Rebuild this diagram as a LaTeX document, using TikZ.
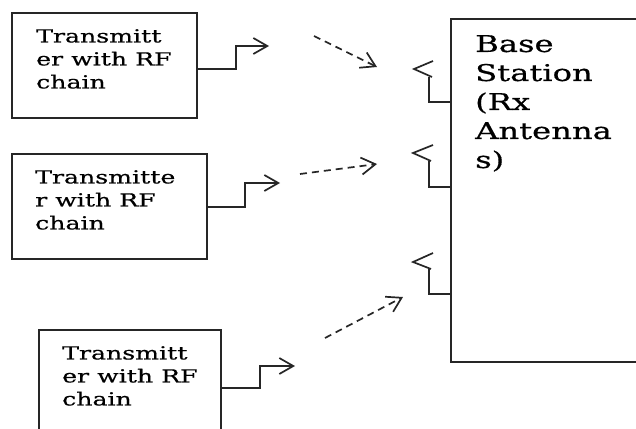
\documentclass[tikz,border=0pt]{standalone}
\usepackage{fontspec}
\newfontfamily\diagfont[FakeStretch=1.4, FakeBold=0.6]{DejaVu Serif}
\usetikzlibrary{arrows.meta, positioning, calc}
\tikzset{
  txbox/.style={rectangle, draw=black!85, line width=1.8pt, anchor=north west, inner sep=0pt},
  txlbl/.style={anchor=north west, inner sep=0pt, align=left, font=\diagfont\fontsize{18}{23}\selectfont},
  bslbl/.style={anchor=north west, inner sep=0pt, align=left, font=\diagfont\fontsize{23}{29}\selectfont},
  ant/.style={draw=black!85, line width=1.7pt, -{Straight Barb[length=14pt, width=16pt, line width=1.7pt]}},
  rxant/.style={draw=black!85, line width=1.7pt},
  wave/.style={draw=black!85, line width=1.7pt, dash pattern=on 7pt off 5pt,
               -{Straight Barb[length=14pt, width=17pt, line width=1.7pt]}}
}
\begin{document}
\begin{tikzpicture}[x=1pt, y=-1pt]
\useasboundingbox (0,0) rectangle (636,428);
\clip (0,0) rectangle (636,428);

% transmitters
\node[txbox, minimum width=185pt, minimum height=105pt] (tx1) at (11,12) {};
\node[txlbl] (tx1l) at (36,29) {Transmitt\\er with RF\\chain};
\node[txbox, minimum width=195pt, minimum height=105pt] (tx2) at (11,153) {};
\node[txlbl] (tx2l) at (35,170) {Transmitte\\r with RF\\chain};
\node[txbox, minimum width=182pt, minimum height=130pt] (tx3) at (38,329) {};
\node[txlbl] (tx3l) at (62,346) {Transmitt\\er with RF\\chain};

% base station
\node[txbox, minimum width=220pt, minimum height=343pt] (bs) at (450,18) {};
\node[bslbl] (bsl) at (475,35) {Base\\Station\\(Rx\\Antenna\\s)};

% tx antennas
\coordinate (a1) at (269,46);
\coordinate (a2) at (280,183);
\coordinate (a3) at (295,366);
\draw[ant] (tx1.east |- 0,69) -| ($(a1)+(-33,0)$) -- (a1);
\draw[ant] (tx2.east |- 0,207) -| ($(a2)+(-35,0)$) -- (a2);
\draw[ant] (tx3.east |- 0,388) -| ($(a3)+(-35,0)$) -- (a3);

% rx antennas
\coordinate (r1) at (414,69);
\coordinate (r2) at (413,153);
\coordinate (r3) at (413,262);
\draw[rxant] (bs.west |- 0,102) -| ($(r1)+(15,8)$);
\draw[rxant] ($(r1)+(19,-8)$) -- (r1) -- ($(r1)+(18,8)$);
\draw[rxant] (bs.west |- 0,187) -| ($(r2)+(16,8)$);
\draw[rxant] ($(r2)+(20,-8)$) -- (r2) -- ($(r2)+(18,8)$);
\draw[rxant] (bs.west |- 0,294) -| ($(r3)+(16,7)$);
\draw[rxant] ($(r3)+(20,-9)$) -- (r3) -- ($(r3)+(18,7)$);

% links
\coordinate (w1s) at (314,36);
\coordinate (w1e) at (377,67);
\coordinate (w2s) at (300,174);
\coordinate (w2e) at (377,164);
\coordinate (w3s) at (325,338);
\coordinate (w3e) at (403,297);
\draw[wave] (w1s) -- (w1e);
\draw[wave] (w2s) -- (w2e);
\draw[wave] (w3s) -- (w3e);
\end{tikzpicture}
\end{document}
